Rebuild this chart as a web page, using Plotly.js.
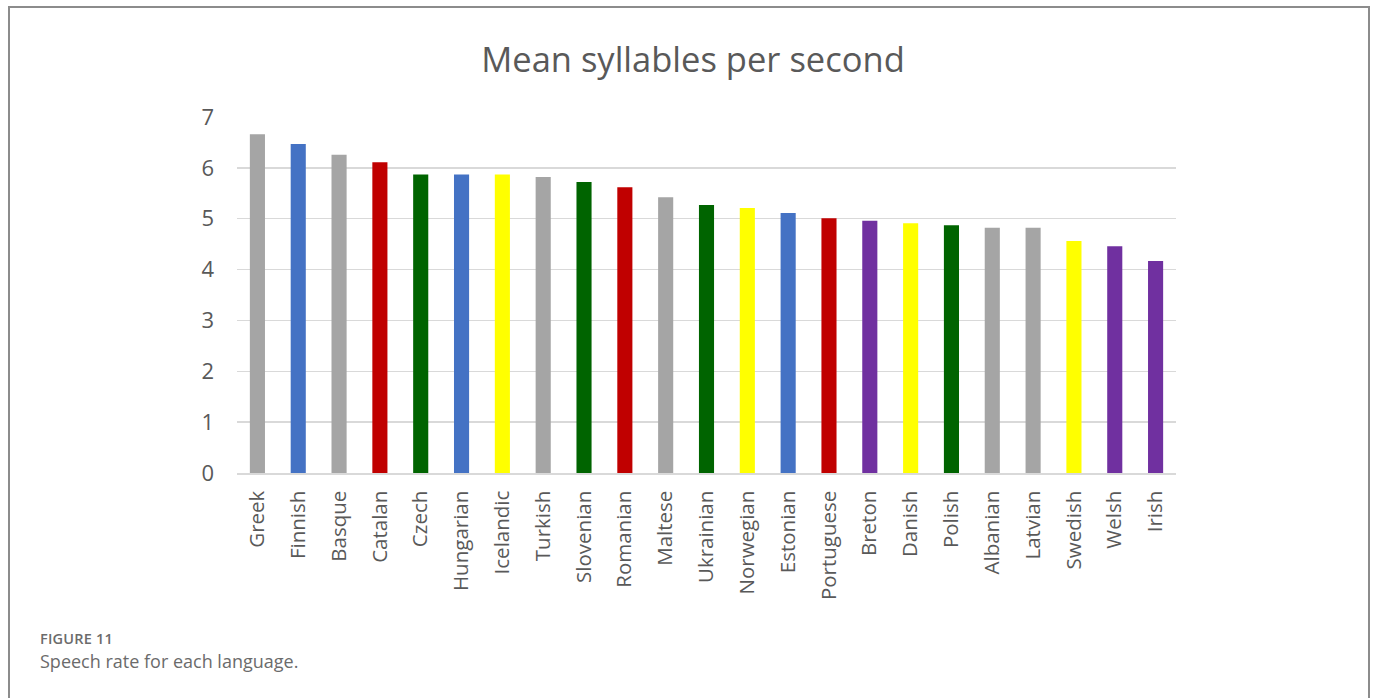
<!DOCTYPE html>
<html>
<head>
<meta charset="utf-8">
<script src="https://cdn.plot.ly/plotly-3.0.1.min.js"></script>
<style>
  html, body { margin: 0; padding: 0; background: #fff; }
  #wrap { position: relative; width: 1375px; height: 698px; overflow: hidden; }
  #chart { position: absolute; left: 0; top: 0; width: 1375px; height: 698px; }
  #frame { position: absolute; left: 8px; top: 6px; width: 1358px; height: 720px;
           border: 2px solid #8c8c8c; border-bottom: none; pointer-events: none; }
  .cap1 { position: absolute; left: 40px; top: 629px; font-family: "Open Sans", sans-serif;
          font-size: 14.5px; font-weight: 600; color: #6b6b6b; letter-spacing: 0.2px; }
  .cap2 { position: absolute; left: 40px; top: 649px; font-family: "Open Sans", sans-serif;
          font-size: 18px; color: #6b6b6b; }
</style>
</head>
<body>
<div id="wrap">
  <div id="chart"></div>
  <div id="frame"></div>
  <div class="cap1">FIGURE 11</div>
  <div class="cap2">Speech rate for each language.</div>
</div>
<script>
// Mean syllables per second by language
const languages = ["Greek", "Finnish", "Basque", "Catalan", "Czech", "Hungarian", "Icelandic",
  "Turkish", "Slovenian", "Romanian", "Maltese", "Ukrainian", "Norwegian", "Estonian",
  "Portuguese", "Breton", "Danish", "Polish", "Albanian", "Latvian", "Swedish", "Welsh", "Irish"];
const syllablesPerSecond = [6.66, 6.47, 6.26, 6.11, 5.87, 5.87, 5.87, 5.82, 5.72, 5.62, 5.42,
  5.27, 5.21, 5.11, 5.01, 4.96, 4.91, 4.87, 4.82, 4.82, 4.56, 4.46, 4.17];
const languageGroup = ["other", "finnic", "other", "romance", "slavic", "finnic", "germanic",
  "other", "slavic", "romance", "other", "slavic", "germanic", "finnic", "romance", "celtic",
  "germanic", "slavic", "other", "other", "germanic", "celtic", "celtic"];

const groupColors = {
  other: "#a5a5a5",
  finnic: "#4472c4",
  romance: "#c00000",
  slavic: "#006400",
  germanic: "#ffff00",
  celtic: "#7030a0"
};

const trace = {
  type: "bar",
  x: languages,
  y: syllablesPerSecond,
  marker: { color: languageGroup.map(g => groupColors[g]), line: { width: 0 } },
  hoverinfo: "x+y"
};

const layout = {
  width: 1375,
  height: 698,
  margin: { l: 237, r: 199, t: 117, b: 225 },
  paper_bgcolor: "rgba(0,0,0,0)",
  plot_bgcolor: "#ffffff",
  bargap: 0.63,
  showlegend: false,
  font: { family: "Open Sans, sans-serif", color: "#595959" },
  title: {
    text: "Mean syllables per second",
    font: { family: "Open Sans, sans-serif", size: 34.5, color: "#595959" },
    x: 0.504, xref: "container", xanchor: "center",
    y: 1 - 60 / 698, yref: "container", yanchor: "middle"
  },
  xaxis: {
    type: "category",
    tickangle: -90,
    tickfont: { size: 20.5, color: "#595959" },
    ticks: "",
    ticklabelstandoff: 8,
    showline: true,
    linecolor: "#d9d9d9",
    linewidth: 1.5,
    showgrid: false,
    fixedrange: true
  },
  yaxis: {
    range: [0, 7],
    dtick: 1,
    tickfont: { size: 22, color: "#595959" },
    ticks: "",
    ticklabelstandoff: 22,
    showgrid: true,
    gridcolor: "#d9d9d9",
    gridwidth: 1.5,
    zeroline: false,
    showline: false,
    fixedrange: true
  }
};

Plotly.newPlot("chart", [trace], layout, { displayModeBar: false, staticPlot: true });
</script>
</body>
</html>
